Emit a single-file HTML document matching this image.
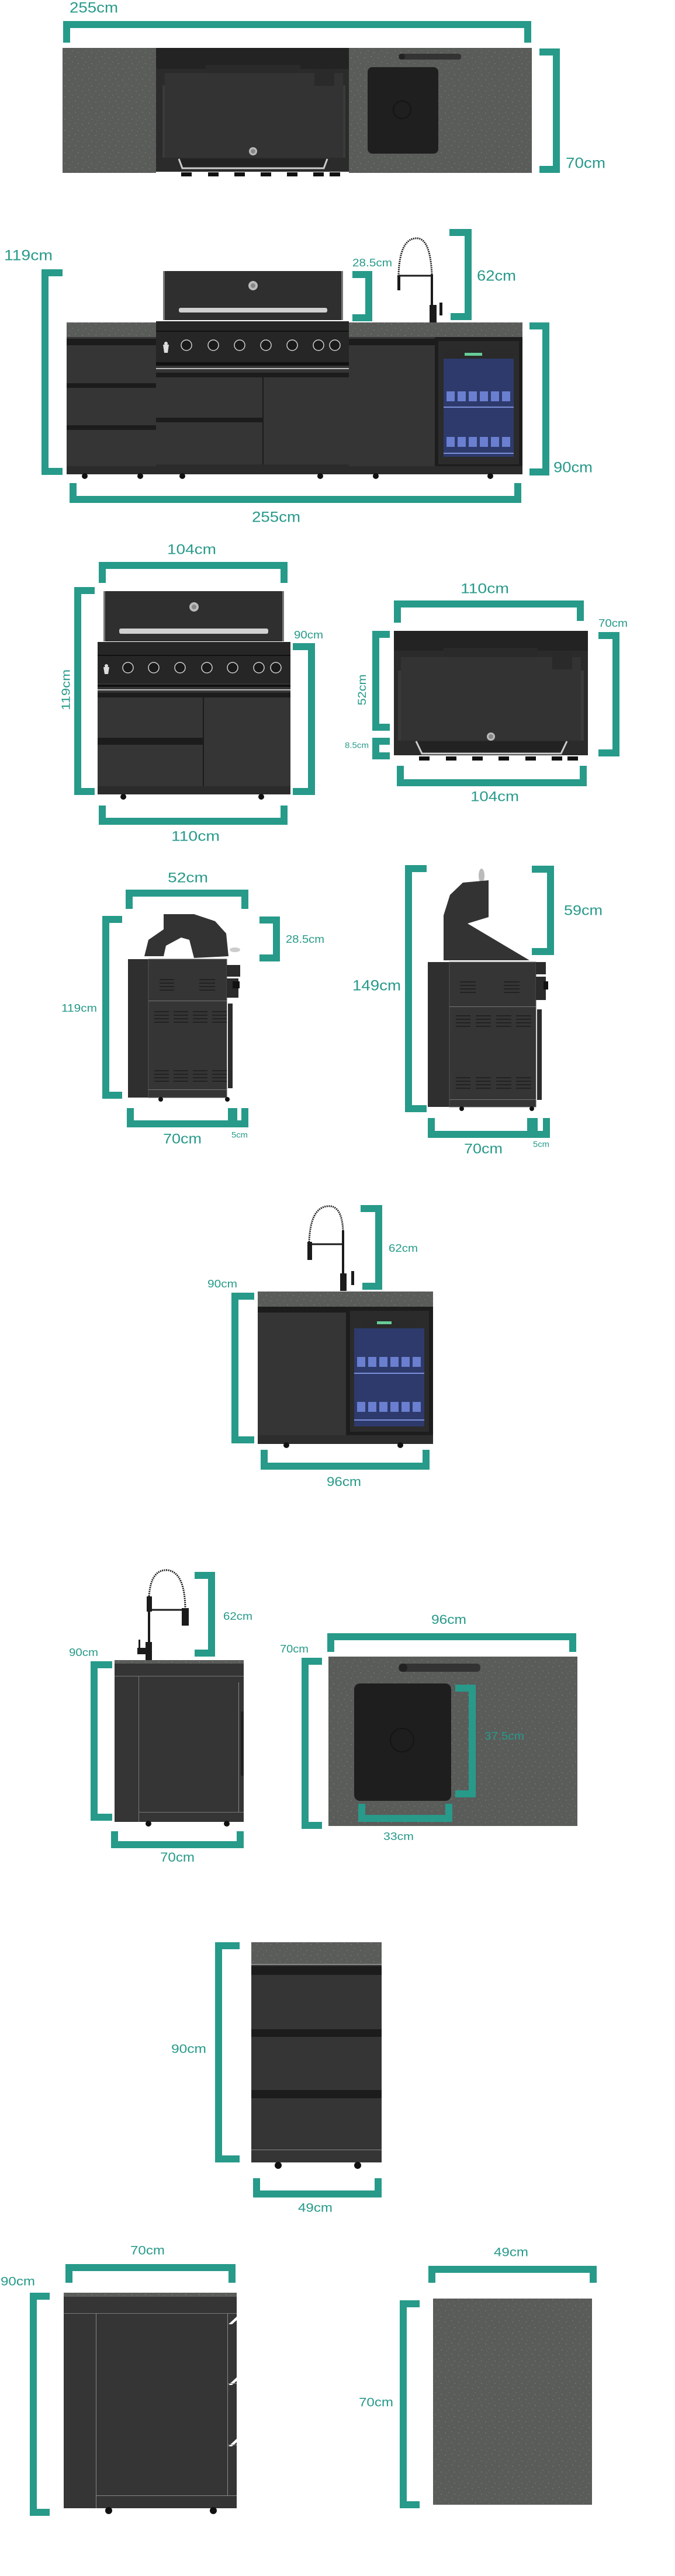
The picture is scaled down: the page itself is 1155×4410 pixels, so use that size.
<!DOCTYPE html>
<html><head><meta charset="utf-8"><style>
html,body{margin:0;padding:0;background:#fff}
svg{display:block}
text{font-family:"Liberation Sans",sans-serif;fill:#279a8a;dominant-baseline:middle}
.b{fill:none;stroke:#279a8a;stroke-width:12;stroke-linejoin:miter}
</style></head><body>
<svg width="1155" height="4410" viewBox="0 0 1155 4410" xmlns="http://www.w3.org/2000/svg">
<defs>
<pattern id="st" width="23" height="19" patternUnits="userSpaceOnUse">
<rect width="23" height="19" fill="#5a5c5a"/>
<circle cx="3" cy="4" r="0.7" fill="#8a8c86"/><circle cx="14" cy="2" r="0.6" fill="#9a9a8a"/>
<circle cx="9" cy="11" r="0.7" fill="#7d807b"/><circle cx="19" cy="14" r="0.6" fill="#a0a090"/>
<circle cx="5" cy="16" r="0.5" fill="#8c8e88"/><circle cx="17" cy="8" r="0.5" fill="#777a75"/>
</pattern>
</defs>

<!-- ===== SECTION 1: plan ===== -->
<path class="b" d="M114,73 V42 H903 V73"/>
<text x="119" y="15" font-size="25" textLength="83" lengthAdjust="spacingAndGlyphs">255cm</text>
<rect x="107" y="82" width="160" height="214" fill="url(#st)"/>
<rect x="597" y="82" width="313" height="214" fill="url(#st)"/>
<rect x="267" y="82" width="330" height="212" fill="#2b2b2b"/>
<rect x="267" y="82" width="330" height="36" fill="#232323"/>
<rect x="278" y="146" width="313" height="124" fill="#3a3a3a"/>
<rect x="282" y="125" width="305" height="145" fill="#333"/>
<rect x="352" y="111" width="162" height="14" fill="#2a2a2a"/>
<rect x="538" y="119" width="34" height="28" fill="#2a2a2a"/>
<circle cx="433" cy="259" r="7" fill="#bbb"/><circle cx="433" cy="259" r="4" fill="#888"/>
<path d="M306,272 L312,288 H554 L560,272" fill="#222" stroke="#ccc" stroke-width="3"/>
<g fill="#111"><rect x="310" y="295" width="18" height="7"/><rect x="356" y="295" width="18" height="7"/><rect x="401" y="295" width="18" height="7"/><rect x="446" y="295" width="18" height="7"/><rect x="491" y="295" width="18" height="7"/><rect x="536" y="295" width="18" height="7"/><rect x="564" y="295" width="18" height="7"/></g>
<rect x="629" y="115" width="121" height="148" rx="8" fill="#1f1f1f"/>
<circle cx="688" cy="188" r="15" fill="none" stroke="#151515" stroke-width="2"/>
<rect x="682" y="92" width="107" height="10" rx="4" fill="#333"/>
<circle cx="688" cy="97" r="5" fill="#222"/>
<path class="b" d="M923,89 H952 V290 H923"/>
<text x="968" y="281" font-size="25" textLength="68" lengthAdjust="spacingAndGlyphs">70cm</text>

<!-- ===== SECTION 1: front ===== -->
<text x="7" y="439" font-size="25" textLength="83" lengthAdjust="spacingAndGlyphs">119cm</text>
<path class="b" d="M107,467 H77 V807 H107"/>
<!-- hood -->
<rect x="279" y="464" width="308" height="84" rx="4" fill="#2f2f2f"/>
<rect x="279" y="464" width="3" height="84" fill="#777"/><rect x="584" y="464" width="3" height="84" fill="#777"/>
<circle cx="433" cy="489" r="8" fill="#bbb"/><circle cx="433" cy="489" r="4" fill="#888"/>
<rect x="306" y="527" width="254" height="8" rx="3" fill="#d0d0d0"/>
<!-- counters -->
<rect x="114" y="552" width="153" height="25" fill="url(#st)"/>
<rect x="597" y="552" width="297" height="25" fill="url(#st)"/>
<!-- left cabinet -->
<rect x="114" y="577" width="153" height="235" fill="#353535"/>
<rect x="114" y="580" width="153" height="11" fill="#1c1c1c"/>
<rect x="114" y="656" width="153" height="8" fill="#1c1c1c"/>
<rect x="114" y="728" width="153" height="8" fill="#1c1c1c"/>
<rect x="114" y="798" width="153" height="14" fill="#2b2b2b"/>
<!-- grill panel -->
<rect x="267" y="550" width="330" height="70" fill="#262626"/>
<rect x="267" y="566" width="330" height="2" fill="#111"/>
<g fill="#1a1a1a" stroke="#cfcfcf" stroke-width="1.5">
<circle cx="319" cy="591" r="9"/><circle cx="365" cy="591" r="9"/><circle cx="410" cy="591" r="9"/><circle cx="455" cy="591" r="9"/><circle cx="500" cy="591" r="9"/><circle cx="545" cy="591" r="9"/><circle cx="573" cy="591" r="9"/></g>
<path d="M279,590 h10 l-2,14 h-6 z" fill="#ddd"/><circle cx="284" cy="588" r="3" fill="#ddd"/>
<!-- grill cabinet -->
<rect x="267" y="620" width="330" height="192" fill="#353535"/>
<rect x="267" y="620" width="330" height="6" fill="#111"/>
<rect x="267" y="630" width="330" height="2" fill="#bbb"/>
<rect x="267" y="638" width="330" height="8" fill="#1c1c1c"/>
<rect x="449" y="646" width="2" height="150" fill="#1c1c1c"/>
<rect x="267" y="715" width="183" height="8" fill="#1c1c1c"/>
<rect x="267" y="795" width="330" height="17" fill="#2b2b2b"/>
<!-- right cabinet -->
<rect x="597" y="577" width="147" height="235" fill="#353535"/>
<rect x="597" y="580" width="147" height="11" fill="#1c1c1c"/>
<rect x="597" y="798" width="297" height="14" fill="#2b2b2b"/>
<!-- fridge -->
<rect x="744" y="577" width="150" height="221" fill="#1d1d1d"/>
<rect x="750" y="584" width="138" height="211" fill="#2b2b2b"/>
<rect x="759" y="600" width="120" height="14" fill="#2a2a2a"/>
<rect x="795" y="604" width="30" height="5" fill="#6c9"/>
<rect x="759" y="614" width="120" height="168" fill="#2d3a6b"/>
<rect x="759" y="696" width="120" height="2" fill="#7d8fd8"/>
<rect x="759" y="775" width="120" height="2" fill="#7d8fd8"/>
<g fill="#6a7fd0"><rect x="764" y="670" width="14" height="17"/><rect x="783" y="670" width="14" height="17"/><rect x="802" y="670" width="14" height="17"/><rect x="821" y="670" width="14" height="17"/><rect x="840" y="670" width="14" height="17"/><rect x="859" y="670" width="14" height="17"/>
<rect x="764" y="748" width="14" height="17"/><rect x="783" y="748" width="14" height="17"/><rect x="802" y="748" width="14" height="17"/><rect x="821" y="748" width="14" height="17"/><rect x="840" y="748" width="14" height="17"/><rect x="859" y="748" width="14" height="17"/></g>
<g fill="#111"><circle cx="145" cy="815" r="5"/><circle cx="240" cy="815" r="5"/><circle cx="312" cy="815" r="5"/><circle cx="548" cy="815" r="5"/><circle cx="643" cy="815" r="5"/><circle cx="839" cy="815" r="5"/></g>
<!-- faucet -->
<g fill="none" stroke="#1b1b1b" stroke-width="4">
<path d="M739,552 V470"/><path d="M739,470 Q736,405 711,408 Q684,410 682,470" stroke-width="3" stroke-dasharray="2 1.5"/>
<path d="M682,472 H739" stroke-width="3"/></g>
<rect x="680" y="471" width="5" height="26" fill="#1b1b1b"/>
<rect x="735" y="522" width="12" height="30" fill="#1b1b1b"/><rect x="752" y="518" width="5" height="22" fill="#1b1b1b"/>
<path class="b" d="M603,470 H631 V544 H603"/>
<text x="603" y="451" font-size="18" textLength="68" lengthAdjust="spacingAndGlyphs">28.5cm</text>
<path class="b" d="M769,398 H801 V542 H771"/>
<text x="816" y="474" font-size="25" textLength="67" lengthAdjust="spacingAndGlyphs">62cm</text>
<path class="b" d="M906,558 H934 V808 H906"/>
<text x="947" y="802" font-size="25" textLength="67" lengthAdjust="spacingAndGlyphs">90cm</text>
<path class="b" d="M125,827 V855 H886 V827"/>
<text x="431" y="887" font-size="25" textLength="83" lengthAdjust="spacingAndGlyphs">255cm</text>

<!-- ===== SECTION 2: grill front ===== -->
<text x="286" y="942" font-size="24" textLength="84" lengthAdjust="spacingAndGlyphs">104cm</text>
<path class="b" d="M175,998 V968 H486 V998"/>
<path class="b" d="M162,1011 H133 V1355 H162"/>
<text transform="translate(114,1181) rotate(-90)" x="0" y="0" font-size="20" text-anchor="middle" textLength="70" lengthAdjust="spacingAndGlyphs">119cm</text>
<rect x="177" y="1012" width="309" height="86" rx="4" fill="#2f2f2f"/>
<rect x="177" y="1012" width="3" height="86" fill="#777"/><rect x="483" y="1012" width="3" height="86" fill="#777"/>
<circle cx="332" cy="1039" r="8" fill="#bbb"/><circle cx="332" cy="1039" r="4" fill="#888"/>
<rect x="204" y="1076" width="255" height="9" rx="3" fill="#d0d0d0"/>
<rect x="167" y="1099" width="330" height="71" fill="#262626"/>
<rect x="167" y="1121" width="330" height="2" fill="#111"/>
<g fill="#1a1a1a" stroke="#cfcfcf" stroke-width="1.5">
<circle cx="219" cy="1143" r="9"/><circle cx="263" cy="1143" r="9"/><circle cx="308" cy="1143" r="9"/><circle cx="354" cy="1143" r="9"/><circle cx="398" cy="1143" r="9"/><circle cx="443" cy="1143" r="9"/><circle cx="472" cy="1143" r="9"/></g>
<path d="M177,1142 h10 l-2,12 h-6 z" fill="#ddd"/><circle cx="182" cy="1140" r="3" fill="#ddd"/>
<rect x="167" y="1170" width="330" height="190" fill="#353535"/>
<rect x="167" y="1172" width="330" height="4" fill="#111"/>
<rect x="167" y="1180" width="330" height="2" fill="#bbb"/>
<rect x="167" y="1186" width="330" height="8" fill="#1c1c1c"/>
<rect x="347" y="1194" width="2" height="152" fill="#1c1c1c"/>
<rect x="167" y="1263" width="180" height="12" fill="#1c1c1c"/>
<rect x="167" y="1346" width="330" height="14" fill="#2b2b2b"/>
<g fill="#111"><circle cx="211" cy="1364" r="5"/><circle cx="447" cy="1364" r="5"/></g>
<path class="b" d="M501,1107 H533 V1355 H501"/>
<text x="503" y="1088" font-size="18" textLength="50" lengthAdjust="spacingAndGlyphs">90cm</text>
<path class="b" d="M175,1379 V1406 H486 V1379"/>
<text x="293" y="1433" font-size="24" textLength="83" lengthAdjust="spacingAndGlyphs">110cm</text>

<!-- SECTION 2: grill top -->
<text x="788" y="1009" font-size="24" textLength="83" lengthAdjust="spacingAndGlyphs">110cm</text>
<path class="b" d="M680,1066 V1034 H993 V1063"/>
<rect x="674" y="1080" width="332" height="213" fill="#2b2b2b"/>
<rect x="674" y="1080" width="332" height="34" fill="#232323"/>
<rect x="681" y="1148" width="318" height="120" fill="#3a3a3a"/>
<rect x="686" y="1125" width="308" height="143" fill="#333"/>
<rect x="759" y="1109" width="161" height="16" fill="#2a2a2a"/>
<rect x="945" y="1116" width="34" height="30" fill="#2a2a2a"/>
<circle cx="840" cy="1261" r="7" fill="#bbb"/><circle cx="840" cy="1261" r="4" fill="#888"/>
<path d="M712,1269 L722,1290 H960 L970,1269" fill="#222" stroke="#ccc" stroke-width="3"/>
<g fill="#111"><rect x="717" y="1295" width="18" height="7"/><rect x="763" y="1295" width="18" height="7"/><rect x="808" y="1295" width="18" height="7"/><rect x="853" y="1295" width="18" height="7"/><rect x="899" y="1295" width="18" height="7"/><rect x="944" y="1295" width="18" height="7"/><rect x="971" y="1295" width="18" height="7"/></g>
<path class="b" d="M1024,1088 H1054 V1289 H1024"/>
<text x="1024" y="1068" font-size="18" textLength="50" lengthAdjust="spacingAndGlyphs">70cm</text>
<path class="b" d="M667,1086 H643 V1245 H667"/>
<text transform="translate(621,1181) rotate(-90)" x="0" y="0" font-size="19" text-anchor="middle" textLength="53" lengthAdjust="spacingAndGlyphs">52cm</text>
<path class="b" d="M667,1269 H643 V1294 H667"/>
<text x="590" y="1277" font-size="14" textLength="41" lengthAdjust="spacingAndGlyphs">8.5cm</text>
<path class="b" d="M685,1311 V1340 H998 V1311"/>
<text x="805" y="1365" font-size="24" textLength="83" lengthAdjust="spacingAndGlyphs">104cm</text>

<!-- SECTION 2: side 1 -->
<text x="287" y="1504" font-size="24" textLength="69" lengthAdjust="spacingAndGlyphs">52cm</text>
<path class="b" d="M221,1556 V1529 H419 V1556"/>
<path class="b" d="M444,1575 H473 V1640 H444"/>
<text x="489" y="1609" font-size="18" textLength="66" lengthAdjust="spacingAndGlyphs">28.5cm</text>
<path class="b" d="M209,1574 H181 V1875 H209"/>
<text x="105" y="1727" font-size="18" textLength="61" lengthAdjust="spacingAndGlyphs">119cm</text>
<path d="M254,1609 L280,1591 L280,1565 L332,1565 L368,1577 L387,1598 L391,1637 L332,1640 L324,1609 L310,1605 L284,1619 L280,1637 L247,1637 Z" fill="#333"/>
<ellipse cx="402" cy="1626" rx="9" ry="4" fill="#ccc"/>
<rect x="219" y="1642" width="35" height="237" fill="#2f2f2f"/>
<rect x="254" y="1642" width="134" height="237" fill="#353535" stroke="#555" stroke-width="1"/>
<rect x="254" y="1713" width="134" height="1" fill="#777"/>
<rect x="254" y="1865" width="134" height="1" fill="#777"/>
<rect x="388" y="1652" width="23" height="20" fill="#2b2b2b"/>
<rect x="388" y="1675" width="20" height="33" fill="#2b2b2b"/>
<rect x="398" y="1680" width="12" height="12" fill="#111"/>
<rect x="390" y="1718" width="8" height="145" fill="#2b2b2b"/>
<g stroke="#222" stroke-width="2">
<path d="M273,1677h25M273,1683h25M273,1689h25M273,1695h25M341,1677h27M341,1683h27M341,1689h27M341,1695h27"/>
<path d="M264,1732h25M264,1738h25M264,1744h25M264,1750h25M297,1732h25M297,1738h25M297,1744h25M297,1750h25M330,1732h25M330,1738h25M330,1744h25M330,1750h25M363,1732h25M363,1738h25M363,1744h25M363,1750h25"/>
<path d="M264,1833h25M264,1839h25M264,1845h25M264,1851h25M297,1833h25M297,1839h25M297,1845h25M297,1851h25M330,1833h25M330,1839h25M330,1845h25M330,1851h25M363,1833h25M363,1839h25M363,1845h25M363,1851h25"/></g>
<g fill="#111"><circle cx="275" cy="1882" r="4"/><circle cx="389" cy="1882" r="4"/></g>
<path class="b" d="M223,1897 V1924 H396 V1897"/>
<path class="b" d="M400,1897 V1924 H419 V1897"/>
<text x="279" y="1951" font-size="24" textLength="66" lengthAdjust="spacingAndGlyphs">70cm</text>
<text x="396" y="1944" font-size="14" textLength="28" lengthAdjust="spacingAndGlyphs">5cm</text>

<!-- SECTION 2: side 2 -->
<path class="b" d="M730,1487 H699 V1898 H730"/>
<text x="603" y="1689" font-size="25" textLength="83" lengthAdjust="spacingAndGlyphs">149cm</text>
<path class="b" d="M910,1488 H942 V1629 H910"/>
<text x="965" y="1560" font-size="24" textLength="66" lengthAdjust="spacingAndGlyphs">59cm</text>
<ellipse cx="824" cy="1499" rx="5" ry="12" fill="#bbb"/>
<path d="M759,1644 L759,1567 L770,1532 L792,1511 L836,1507 L836,1570 L800,1581 L906,1644 Z" fill="#333"/>
<rect x="732" y="1647" width="37" height="248" fill="#2f2f2f"/>
<rect x="769" y="1647" width="148" height="248" fill="#353535" stroke="#555" stroke-width="1"/>
<rect x="769" y="1723" width="148" height="1" fill="#777"/>
<rect x="769" y="1882" width="148" height="1" fill="#777"/>
<rect x="917" y="1647" width="17" height="21" fill="#2b2b2b"/>
<rect x="917" y="1672" width="17" height="40" fill="#2b2b2b"/>
<rect x="930" y="1680" width="8" height="14" fill="#111"/>
<rect x="919" y="1728" width="8" height="155" fill="#2b2b2b"/>
<g stroke="#222" stroke-width="2">
<path d="M787,1681h27M787,1687h27M787,1693h27M787,1699h27M862,1681h27M862,1687h27M862,1693h27M862,1699h27"/>
<path d="M780,1739h25M780,1745h25M780,1751h25M780,1757h25M814,1739h26M814,1745h26M814,1751h26M814,1757h26M849,1739h26M849,1745h26M849,1751h26M849,1757h26M883,1739h26M883,1745h26M883,1751h26M883,1757h26"/>
<path d="M780,1845h25M780,1851h25M780,1857h25M780,1863h25M814,1845h26M814,1851h26M814,1857h26M814,1863h26M849,1845h26M849,1851h26M849,1857h26M849,1863h26M883,1845h26M883,1851h26M883,1857h26M883,1863h26"/></g>
<g fill="#111"><circle cx="790" cy="1898" r="4"/><circle cx="910" cy="1898" r="4"/></g>
<path class="b" d="M738,1914 V1942 H908 V1914"/>
<path class="b" d="M914,1914 V1942 H935 V1914"/>
<text x="794" y="1968" font-size="24" textLength="66" lengthAdjust="spacingAndGlyphs">70cm</text>
<text x="912" y="1960" font-size="14" textLength="28" lengthAdjust="spacingAndGlyphs">5cm</text>

<!-- ===== SECTION 3: sink+fridge front ===== -->
<g fill="none" stroke="#1b1b1b" stroke-width="4">
<path d="M587,2210 V2107"/><path d="M587,2107 Q585,2062 560,2065 Q531,2068 529,2126" stroke-width="3" stroke-dasharray="2 1.5"/>
<path d="M529,2130 H587" stroke-width="3"/></g>
<rect x="526" y="2126" width="8" height="31" fill="#1b1b1b"/>
<rect x="582" y="2180" width="11" height="30" fill="#1b1b1b"/><rect x="601" y="2176" width="5" height="24" fill="#1b1b1b"/>
<path class="b" d="M617,2069 H648 V2202 H620"/>
<text x="665" y="2138" font-size="18" textLength="50" lengthAdjust="spacingAndGlyphs">62cm</text>
<text x="355" y="2199" font-size="18" textLength="51" lengthAdjust="spacingAndGlyphs">90cm</text>
<path class="b" d="M435,2219 H402 V2465 H435"/>
<rect x="441" y="2211" width="300" height="26" fill="url(#st)"/>
<rect x="441" y="2237" width="151" height="220" fill="#353535"/>
<rect x="441" y="2237" width="151" height="10" fill="#1c1c1c"/>
<rect x="592" y="2237" width="149" height="220" fill="#1d1d1d"/>
<rect x="599" y="2244" width="135" height="207" fill="#2b2b2b"/>
<rect x="620" y="2259" width="90" height="12" fill="#2a2a2a"/>
<rect x="645" y="2262" width="25" height="5" fill="#6c9"/>
<rect x="606" y="2274" width="120" height="168" fill="#2d3a6b"/>
<rect x="606" y="2350" width="120" height="2" fill="#7d8fd8"/>
<rect x="606" y="2430" width="120" height="2" fill="#7d8fd8"/>
<g fill="#6a7fd0"><rect x="611" y="2323" width="14" height="17"/><rect x="630" y="2323" width="14" height="17"/><rect x="649" y="2323" width="14" height="17"/><rect x="668" y="2323" width="14" height="17"/><rect x="687" y="2323" width="14" height="17"/><rect x="706" y="2323" width="14" height="17"/>
<rect x="611" y="2400" width="14" height="17"/><rect x="630" y="2400" width="14" height="17"/><rect x="649" y="2400" width="14" height="17"/><rect x="668" y="2400" width="14" height="17"/><rect x="687" y="2400" width="14" height="17"/><rect x="706" y="2400" width="14" height="17"/></g>
<rect x="441" y="2457" width="300" height="15" fill="#2d2d2d"/>
<g fill="#111"><circle cx="490" cy="2474" r="5"/><circle cx="685" cy="2474" r="5"/></g>
<path class="b" d="M452,2482 V2510 H729 V2482"/>
<text x="559" y="2538" font-size="22" textLength="59" lengthAdjust="spacingAndGlyphs">96cm</text>

<!-- SECTION 3: sink side -->
<g fill="none" stroke="#1b1b1b" stroke-width="4">
<path d="M255,2843 V2733"/><path d="M255,2733 Q258,2686 287,2688 Q316,2692 317,2753" stroke-width="3" stroke-dasharray="2 1.5"/>
<path d="M255,2756 H317" stroke-width="3"/></g>
<rect x="251" y="2733" width="9" height="26" fill="#1b1b1b"/>
<rect x="311" y="2753" width="12" height="30" fill="#1b1b1b"/>
<rect x="249" y="2811" width="11" height="32" fill="#1b1b1b"/><rect x="235" y="2821" width="17" height="11" fill="#1b1b1b"/><rect x="237" y="2807" width="3" height="15" fill="#1b1b1b"/>
<path class="b" d="M333,2697 H362 V2830 H333"/>
<text x="382" y="2768" font-size="18" textLength="50" lengthAdjust="spacingAndGlyphs">62cm</text>
<text x="118" y="2830" font-size="18" textLength="50" lengthAdjust="spacingAndGlyphs">90cm</text>
<path class="b" d="M192,2850 H161 V3111 H192"/>
<rect x="196" y="2842" width="221" height="277" fill="#353535"/>
<rect x="196" y="2842" width="221" height="6" fill="url(#st)"/>
<rect x="196" y="2869" width="221" height="1" fill="#777"/>
<rect x="237" y="2869" width="1" height="250" fill="#777"/>
<rect x="237" y="3102" width="180" height="1" fill="#777"/>
<rect x="408" y="2880" width="1" height="222" fill="#888"/>
<rect x="412" y="2930" width="5" height="110" fill="#222"/>
<g fill="#111"><circle cx="254" cy="3122" r="5"/><circle cx="388" cy="3122" r="5"/></g>
<path class="b" d="M196,3135 V3158 H411 V3135"/>
<text x="274" y="3181" font-size="22" textLength="59" lengthAdjust="spacingAndGlyphs">70cm</text>

<!-- SECTION 3: sink top -->
<text x="738" y="2774" font-size="22" textLength="60" lengthAdjust="spacingAndGlyphs">96cm</text>
<path class="b" d="M566,2828 V2802 H980 V2828"/>
<text x="479" y="2824" font-size="18" textLength="49" lengthAdjust="spacingAndGlyphs">70cm</text>
<path class="b" d="M551,2844 H522 V3125 H551"/>
<rect x="562" y="2836" width="426" height="290" fill="url(#st)"/>
<rect x="606" y="2882" width="166" height="201" rx="10" fill="#1e1e1e"/>
<circle cx="688" cy="2979" r="20" fill="none" stroke="#151515" stroke-width="2"/>
<rect x="682" y="2848" width="140" height="14" rx="6" fill="#333"/>
<circle cx="690" cy="2855" r="7" fill="#222"/>
<path class="b" d="M779,2890 H808 V3071 H779"/>
<text x="829" y="2973" font-size="18" textLength="68" lengthAdjust="spacingAndGlyphs">37.5cm</text>
<path class="b" d="M619,3088 V3113 H768 V3088"/>
<text x="656" y="3145" font-size="18" textLength="52" lengthAdjust="spacingAndGlyphs">33cm</text>

<!-- ===== SECTION 4: drawer front ===== -->
<path class="b" d="M410,3331 H374 V3696 H410"/>
<text x="293" y="3509" font-size="21" textLength="60" lengthAdjust="spacingAndGlyphs">90cm</text>
<rect x="430" y="3325" width="223" height="37" fill="url(#st)"/>
<rect x="430" y="3362" width="223" height="340" fill="#353535"/>
<rect x="430" y="3362" width="223" height="2" fill="#888"/>
<rect x="430" y="3366" width="223" height="15" fill="#1c1c1c"/>
<rect x="430" y="3474" width="223" height="13" fill="#1c1c1c"/>
<rect x="430" y="3578" width="223" height="14" fill="#1c1c1c"/>
<rect x="430" y="3680" width="223" height="1" fill="#888"/>
<g fill="#111"><circle cx="476" cy="3707" r="6"/><circle cx="612" cy="3707" r="6"/></g>
<path class="b" d="M439,3729 V3756 H647 V3729"/>
<text x="510" y="3781" font-size="21" textLength="59" lengthAdjust="spacingAndGlyphs">49cm</text>

<!-- SECTION 4: drawer side -->
<text x="223" y="3854" font-size="21" textLength="59" lengthAdjust="spacingAndGlyphs">70cm</text>
<path class="b" d="M118,3908 V3882 H397 V3908"/>
<text x="1" y="3907" font-size="21" textLength="59" lengthAdjust="spacingAndGlyphs">90cm</text>
<path class="b" d="M85,3931 H57 V4301 H85"/>
<rect x="109" y="3925" width="296" height="369" fill="#353535"/>
<rect x="109" y="3925" width="296" height="7" fill="url(#st)"/>
<rect x="109" y="3960" width="296" height="1" fill="#777"/>
<rect x="164" y="3960" width="1" height="334" fill="#888"/>
<rect x="164" y="4272" width="241" height="1" fill="#888"/>
<rect x="389" y="3960" width="1" height="312" fill="#888"/>
<g fill="#fff"><path d="M391,3979 L405,3966 V3972 L397,3979 Z"/><path d="M391,4083 L405,4070 V4076 L397,4083 Z"/><path d="M391,4188 L405,4175 V4181 L397,4188 Z"/></g>
<rect x="389" y="4080" width="16" height="1" fill="#888"/><rect x="389" y="4185" width="16" height="1" fill="#888"/>
<g fill="#111"><circle cx="186" cy="4298" r="6"/><circle cx="365" cy="4298" r="6"/></g>

<!-- SECTION 4: stone top -->
<text x="845" y="3857" font-size="21" textLength="59" lengthAdjust="spacingAndGlyphs">49cm</text>
<path class="b" d="M739,3908 V3885 H1015 V3908"/>
<text x="614" y="4114" font-size="21" textLength="59" lengthAdjust="spacingAndGlyphs">70cm</text>
<path class="b" d="M718,3944 H690 V4288 H718"/>
<rect x="741" y="3935" width="272" height="353" fill="url(#st)"/>
</svg>
</body></html>
